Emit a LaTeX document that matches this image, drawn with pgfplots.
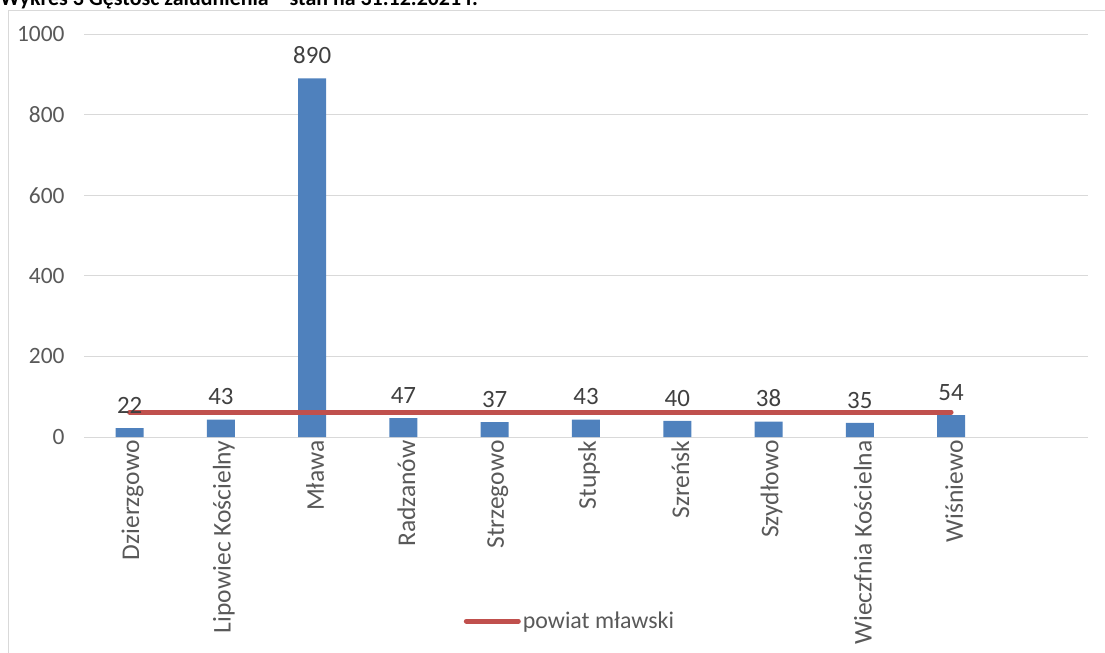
\documentclass[border=0pt]{standalone}
\usepackage{pgfplots}
\pgfplotsset{compat=1.18}
\usepackage{fontspec}
\setmainfont{Carlito}
\definecolor{barblue}{RGB}{79,129,189}
\definecolor{linered}{RGB}{192,80,77}
\definecolor{gridgray}{RGB}{217,217,217}
\definecolor{textgray}{RGB}{89,89,89}
\definecolor{labgray}{RGB}{64,64,64}
\begin{document}
\begin{tikzpicture}
\useasboundingbox (0,0) rectangle (1105bp,-653bp);
\draw[gridgray, line width=1bp] (8bp,-700bp) -- (8bp,-10bp) -- (1200bp,-10bp);
\node[anchor=base west, font=\fontsize{22}{24}\selectfont\bfseries, inner sep=0] at (0,-5bp) {Wykres 3 Gęstość zaludnienia – stan na 31.12.2021 r.};
\begin{axis}[
  at={(84bp,-437bp)}, anchor=south west,
  scale only axis, width=1004bp, height=403bp,
  xmin=-0.5, xmax=10.5, ymin=0, ymax=1000,
  ytick={0,200,...,1000},
  xtick={0,...,9},
  xticklabels={Dzierzgowo,Lipowiec Kościelny,Mława,Radzanów,Strzegowo,Stupsk,Szreńsk,Szydłowo,Wieczfnia Kościelna,Wiśniewo},
  xticklabel style={rotate=90, anchor=east, font=\fontsize{25.6}{27}\selectfont, text=textgray, yshift=-3bp},
  yticklabel style={font=\fontsize{23.5}{25}\selectfont, text=textgray, xshift=-16bp},
  /pgf/number format/assume math mode=true,
  /pgf/number format/1000 sep={},
  axis line style={draw=none},
  major tick style={draw=none},
  ymajorgrids, grid style={gridgray, line width=1bp},
  legend style={at={(0.484,-0.457)}, anchor=center, draw=none, fill=none, font=\fontsize{24}{26}\selectfont, text=textgray},
  legend image code/.code={\draw[#1, line cap=round] (0bp,0bp) -- (52bp,0bp);},
]
\addplot[ybar, bar width=28bp, fill=barblue, draw=none, forget plot,
  nodes near coords,
  every node near coord/.append style={font=\fontsize{25}{27}\selectfont, text=labgray, anchor=south, yshift=11bp}]
  coordinates {(0,22) (1,43) (2,890) (3,47) (4,37) (5,43) (6,40) (7,38) (8,35) (9,54)};
\addplot[linered, line width=5bp, line cap=round, mark=none]
  coordinates {(0,62) (9,62)};
\addlegendentry{powiat mławski}
\end{axis}
\end{tikzpicture}
\end{document}
